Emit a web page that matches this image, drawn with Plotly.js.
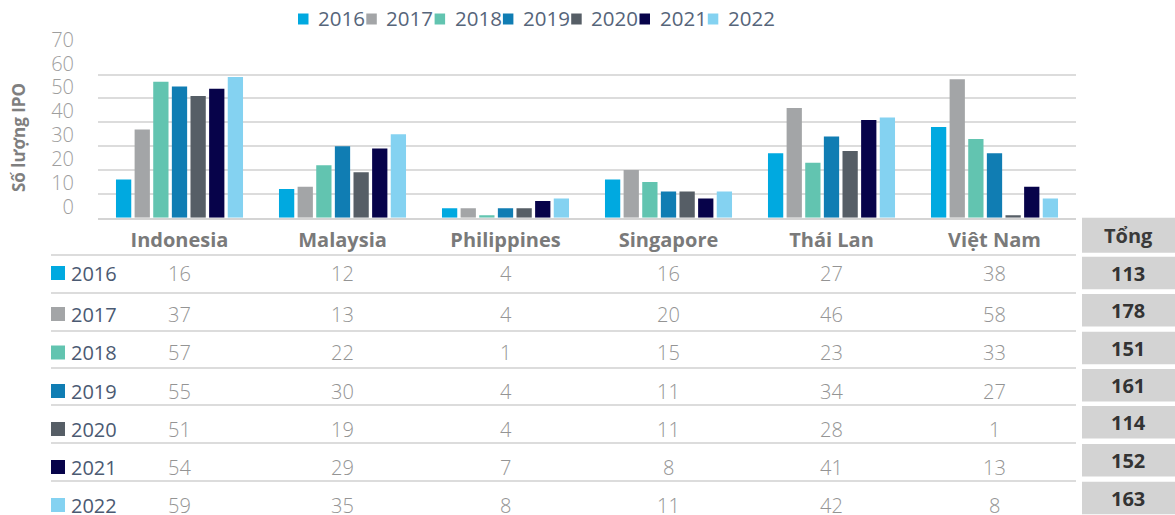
<!DOCTYPE html>
<html><head><meta charset="utf-8">
<script src="https://cdn.plot.ly/plotly-3.0.1.min.js"></script>
<style>html,body{margin:0;padding:0;background:#fff}</style>
</head><body><div id="chart" style="width:1175px;height:515px"></div>
<script>
// ---- data ----
const countries = ["Indonesia", "Malaysia", "Philippines", "Singapore", "Thái Lan", "Việt Nam"];
const years = ["2016", "2017", "2018", "2019", "2020", "2021", "2022"];
const ipo2016 = [16, 12, 4, 16, 27, 38];
const ipo2017 = [37, 13, 4, 20, 46, 58];
const ipo2018 = [57, 22, 1, 15, 23, 33];
const ipo2019 = [55, 30, 4, 11, 34, 27];
const ipo2020 = [51, 19, 4, 11, 28, 1];
const ipo2021 = [54, 29, 7, 8, 41, 13];
const ipo2022 = [59, 35, 8, 11, 42, 8];
const yTicks = [0, 10, 20, 30, 40, 50, 60, 70];
const totalLabel = "Tổng";
const yTitle = "Số lượng IPO";

// ---- style ----
const series = [ipo2016, ipo2017, ipo2018, ipo2019, ipo2020, ipo2021, ipo2022];
const colors = ["#00a9e0", "#a3a5a7", "#62c4b0", "#107db3", "#565e66", "#07034a", "#84d2f1"];
const W = 1175, H = 515;
const X = p => p / W;
const Y = p => 1 - p / H;
const FONT = "Open Sans, sans-serif";

const traces = series.map((vals, i) => ({
  type: "bar", name: years[i], x: countries, y: vals,
  marker: {color: colors[i]}, hoverinfo: "x+y+name", showlegend: false
}));

// table layout positions (pixels)
const lineY = [255, 293, 331, 368, 405, 443, 481];
const rowCenter = [273, 314, 352.5, 391, 429, 467, 505];
const boxTop = [256.7, 294, 331.7, 369, 406, 444, 481.7];
const boxH = 32.6;

const shapes = [];
const annotations = [];

// legend (top)
years.forEach((yr, i) => {
  const x0 = 298 + i * 68.3;
  shapes.push({type: "rect", xref: "paper", yref: "paper", x0: X(x0), x1: X(x0 + 10.5),
    y0: Y(24.5), y1: Y(13.5), fillcolor: colors[i], line: {width: 0}});
  annotations.push({xref: "paper", yref: "paper", x: X(x0 + 18), y: Y(18.5), text: yr,
    showarrow: false, xanchor: "left", yanchor: "middle",
    font: {family: FONT, size: 20.5, color: "#56657a"}});
});

// y-axis title
annotations.push({xref: "paper", yref: "paper", x: X(19), y: Y(138), text: yTitle,
  textangle: -90, showarrow: false, xanchor: "center", yanchor: "middle",
  font: {family: FONT, size: 17, color: "#7f7f7f", weight: 700}});

// row lines
lineY.forEach(y => shapes.push({type: "line", xref: "paper", yref: "paper",
  x0: X(51), x1: X(1076), y0: Y(y), y1: Y(y), line: {color: "#dcdcdc", width: 2}}));

// Tổng header
shapes.push({type: "rect", xref: "paper", yref: "paper", x0: X(1082), x1: X(1175),
  y0: Y(217.7), y1: Y(252.7), fillcolor: "#d3d3d3", line: {width: 0}});
annotations.push({xref: "paper", yref: "paper", x: X(1128), y: Y(235), text: totalLabel,
  showarrow: false, xanchor: "center", yanchor: "middle",
  font: {family: FONT, size: 20, color: "#3a3a3a", weight: 700}});

years.forEach((yr, i) => {
  const c = rowCenter[i];
  shapes.push({type: "rect", xref: "paper", yref: "paper", x0: X(51), x1: X(65),
    y0: Y(c - 7), y1: Y(c + 7), fillcolor: colors[i], line: {width: 0}});
  annotations.push({xref: "paper", yref: "paper", x: X(69), y: Y(c), text: yr,
    showarrow: false, xanchor: "left", yanchor: "middle",
    font: {family: FONT, size: 20, color: "#4b5a72"}});
  countries.forEach((ct, j) => {
    annotations.push({xref: "x", yref: "paper", x: ct, y: Y(c), text: String(series[i][j]),
      showarrow: false, xanchor: "center", yanchor: "middle",
      font: {family: FONT, size: 20, color: "#949494", weight: 300}});
  });
  const total = series[i].reduce((a, b) => a + b, 0);
  shapes.push({type: "rect", xref: "paper", yref: "paper", x0: X(1082), x1: X(1175),
    y0: Y(boxTop[i]), y1: Y(boxTop[i] + boxH), fillcolor: "#d3d3d3", line: {width: 0}});
  annotations.push({xref: "paper", yref: "paper", x: X(1128), y: Y(boxTop[i] + boxH / 2),
    text: String(total), showarrow: false, xanchor: "center", yanchor: "middle",
    font: {family: FONT, size: 20, color: "#333333", weight: 700}});
});

const layout = {
  width: W, height: H,
  margin: {l: 0, r: 0, t: 0, b: 0},
  paper_bgcolor: "#ffffff", plot_bgcolor: "#ffffff",
  barmode: "group", bargap: 0.2, bargroupgap: 0.18,
  font: {family: FONT},
  showlegend: false,
  xaxis: {domain: [X(98), X(1076)], showline: true, linecolor: "#d4d4d4", linewidth: 2,
    ticks: "", tickfont: {family: FONT, size: 20, color: "#7a7a7a", weight: 700},
    ticklabelstandoff: 3,
    showgrid: false, automargin: false, fixedrange: true},
  yaxis: {domain: [Y(217.7), Y(50.7)], range: [0, 70], tickvals: yTicks,
    showgrid: true, gridcolor: "#dcdcdc", gridwidth: 2, zeroline: false, showline: false,
    ticks: "", tickfont: {family: FONT, size: 20, color: "#9e9e9e", weight: 300},
    ticklabelshift: -11, ticklabelstandoff: 23, automargin: false, fixedrange: true},
  shapes: shapes,
  annotations: annotations
};

Plotly.newPlot("chart", traces, layout, {displayModeBar: false, staticPlot: true});
</script>
</body></html>
